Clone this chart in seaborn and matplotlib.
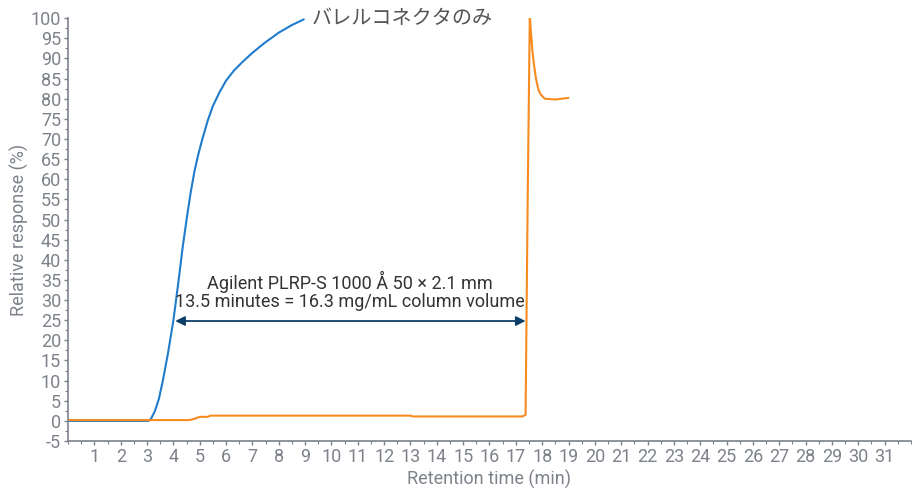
import numpy as np
import pandas as pd
import seaborn as sns
import matplotlib
matplotlib.use("Agg")
import matplotlib.pyplot as plt
from matplotlib.ticker import MultipleLocator

# ---- data ----
blue_t = [0.0, 3.05, 3.15, 3.3, 3.45, 3.6, 3.8, 4.0, 4.2, 4.35, 4.5, 4.65, 4.8, 4.95,
          5.1, 5.3, 5.5, 5.75, 6.0, 6.3, 6.65, 7.0, 7.45, 8.0, 8.5, 8.95]
blue_v = [0.0, 0.0, 0.5, 2.5, 5.5, 10.0, 17.0, 25.0, 35.0, 43.0, 50.0, 56.5, 62.0, 66.3,
          70.0, 74.5, 78.2, 81.6, 84.5, 87.0, 89.3, 91.4, 93.8, 96.4, 98.3, 99.7]

orange_t = [0.0, 4.6, 4.8, 5.0, 5.3, 5.4, 13.0, 13.1, 17.25, 17.37, 17.45, 17.53, 17.58,
            17.63, 17.7, 17.76, 17.82, 17.87, 17.95, 18.1, 18.5, 19.0]
orange_v = [0.2, 0.2, 0.5, 1.0, 1.0, 1.3, 1.3, 1.1, 1.1, 1.5, 55.0, 100.3, 96.0,
            91.8, 88.0, 85.2, 83.3, 82.0, 81.0, 80.0, 79.8, 80.2]

x_ticks = list(range(1, 32))
y_ticks = list(range(-5, 101, 5))

series_label = "バレルコネクタのみ"
note_line1 = "Agilent PLRP-S 1000 Å 50 × 2.1 mm"
note_line2 = "13.5 minutes = 16.3 mg/mL column volume"
arrow_start, arrow_end, arrow_y = 4.07, 17.37, 24.8

df = pd.concat([
    pd.DataFrame({"t": blue_t, "v": blue_v, "s": "blue"}),
    pd.DataFrame({"t": orange_t, "v": orange_v, "s": "orange"}),
])

sns.set_style("white")
plt.rcParams["font.family"] = ["Roboto", "Noto Sans CJK JP", "DejaVu Sans"]
plt.rcParams["axes.unicode_minus"] = False

grey = "#7d828a"
fig = plt.figure(figsize=(9.22, 4.91), dpi=100)
ax = fig.add_axes([0.0738, 0.1018, 0.9142, 0.8612])

sns.lineplot(data=df, x="t", y="v", hue="s",
             palette={"blue": "#1f7ccc", "orange": "#f78b1f"},
             linewidth=1.5, legend=False, ax=ax, estimator=None, sort=False)

ax.set_xlim(0, 32)
ax.set_ylim(-5, 100)
ax.set_xticks(x_ticks)
ax.set_yticks(y_ticks)
ax.xaxis.set_minor_locator(MultipleLocator(0.5))
ax.yaxis.set_minor_locator(MultipleLocator(2.5))
ax.tick_params(axis="both", which="major", direction="out", length=3, width=1,
               color=grey, labelcolor=grey, labelsize=13, pad=2)
ax.tick_params(axis="both", which="minor", direction="out", length=2, width=0.8, color=grey)
ax.tick_params(axis="x", which="both", bottom=True)
ax.tick_params(axis="y", which="both", left=True)

for side in ["top", "right"]:
    ax.spines[side].set_visible(False)
for side in ["left", "bottom"]:
    ax.spines[side].set_color(grey)
    ax.spines[side].set_linewidth(1.2)

ax.set_xlabel("Retention time (min)", color=grey, fontsize=13, labelpad=3)
ax.set_ylabel("Relative response (%)", color=grey, fontsize=13, labelpad=1)

ax.text(9.25, 100, series_label, ha="left", va="center", fontsize=14.5,
        color="#555555", family=["Noto Sans CJK JP", "DejaVu Sans"])

ax.text(10.7, 34.6, note_line1, ha="center", va="center", fontsize=13, color="#333333")
ax.text(10.7, 29.6, note_line2, ha="center", va="center", fontsize=13, color="#333333")
ax.annotate("", xy=(arrow_start, arrow_y), xytext=(arrow_end, arrow_y),
            arrowprops=dict(arrowstyle="<|-|>", color="#0d3f68", lw=1.3,
                            mutation_scale=14, shrinkA=0, shrinkB=0))

fig.savefig("out.png", dpi=100)
